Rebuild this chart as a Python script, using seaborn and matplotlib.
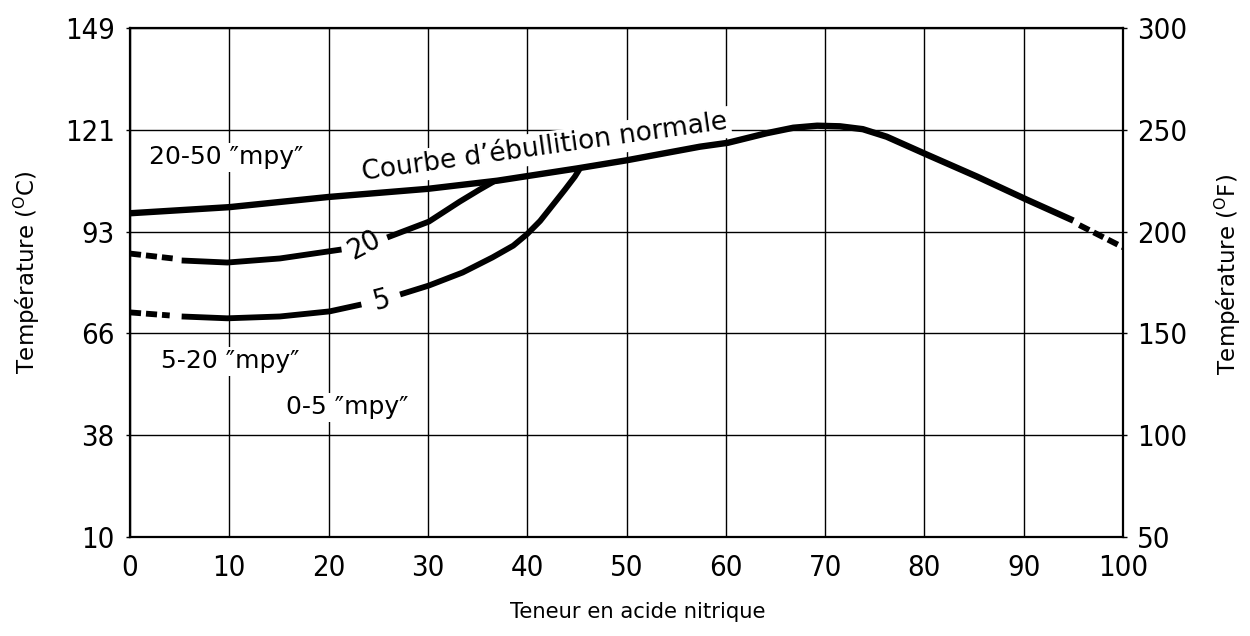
import os
import matplotlib
matplotlib.use("Agg")
import matplotlib.pyplot as plt
import matplotlib.font_manager as fm
import seaborn as sns
import pandas as pd

# ---------------- data (temperature in °F, x = % nitric acid) ----------------
boil_x = [0, 10, 20, 30, 37, 45, 50, 57.4, 60.2, 64.1, 66.8, 69.2, 71.5, 73.8,
          76.2, 80.3, 85.3, 90.3, 95]
boil_f = [209, 212, 217, 221, 225, 231, 235, 241.7, 243.6, 248.3, 251, 252,
          251.7, 250.3, 246.6, 237.7, 227, 215.7, 205.4]
boil_dot_x = [95.6, 100]
boil_dot_f = [203.2, 192.3]

c20_dot_x = [0, 4.3]
c20_dot_f = [189.2, 186.8]
c20_a_x = [5.2, 9.8, 15.1, 21.3]
c20_a_f = [185.8, 184.8, 186.8, 191.2]
c20_b_x = [25.9, 30.1, 33.2, 35.2, 36.6]
c20_b_f = [197.1, 204.9, 214.7, 220.6, 224.5]

c5_dot_x = [0, 4.0]
c5_dot_f = [160.3, 158.8]
c5_a_x = [5.2, 9.8, 15.1, 20.1, 23.3]
c5_a_f = [158.3, 157.4, 158.3, 160.8, 164.2]
c5_b_x = [27.2, 30.1, 33.5, 36.5, 38.6, 40.0, 41.3, 42.6, 43.8, 44.8, 45.3]
c5_b_f = [169.1, 173.5, 179.9, 187.3, 193.1, 198.8, 205.2, 213.2, 220.6, 227.0, 230.9]

x_ticks = [0, 10, 20, 30, 40, 50, 60, 70, 80, 90, 100]
f_ticks = [50, 100, 150, 200, 250, 300]
c_labels = ["10", "38", "66", "93", "121", "149"]
f_labels = ["50", "100", "150", "200", "250", "300"]

x_label = "Teneur en acide nitrique"
yl_label = r"Température ($^{\mathrm{O}}$C)"
yr_label = r"Température ($^{\mathrm{O}}$F)"
mpy = "\u2033mpy\u2033"
region_labels = ["20-50 " + mpy, "5-20 " + mpy, "0-5 " + mpy]
boil_label = "Courbe d\u2019ébullition normale"
curve_labels = ["20", "5"]

# ---------------- fonts ----------------
sns.set_theme(style="white")
plt.rcParams["font.family"] = ["DejaVu Sans"]
plt.rcParams["mathtext.fontset"] = "dejavusans"


def find_font(basenames):
    files = fm.findSystemFonts()
    low = {os.path.basename(f).lower(): f for f in files}
    for b in basenames:
        if b.lower() in low:
            return low[b.lower()]
    return None


narrow_file = find_font(["LiberationSansNarrow-Regular.ttf", "DejaVuSansCondensed.ttf"])


def narrow_fp(size):
    if narrow_file:
        return fm.FontProperties(fname=narrow_file, size=size)
    return fm.FontProperties(family="DejaVu Sans", stretch="condensed", size=size)


fig = plt.figure(figsize=(12.5, 6.36), dpi=100)
ax = fig.add_axes([0.104, 0.1557, 0.7944, 0.8003])

BLACK = "#000000"
LW_B = 4.6
LW_C = 4.2
DOT = (0, (1.9, 0.85))


def seg(xs, ys, lw, ls="-"):
    df = pd.DataFrame({"x": xs, "y": ys})
    sns.lineplot(data=df, x="x", y="y", ax=ax, color=BLACK, linewidth=lw,
                 linestyle=ls, estimator=None, sort=False, legend=False,
                 solid_capstyle="butt", dash_capstyle="butt",
                 solid_joinstyle="round", zorder=3)


seg(boil_x, boil_f, LW_B)
seg(boil_dot_x, boil_dot_f, LW_C, DOT)
seg(c20_dot_x, c20_dot_f, LW_C, DOT)
seg(c20_a_x, c20_a_f, LW_C)
seg(c20_b_x, c20_b_f, LW_C)
seg(c5_dot_x, c5_dot_f, LW_C, DOT)
seg(c5_a_x, c5_a_f, LW_C)
seg(c5_b_x, c5_b_f, LW_C)

ax.set_xlim(0, 100)
ax.set_ylim(50, 300)
ax.set_xticks(x_ticks)
ax.set_yticks(f_ticks)
ax.set_xticklabels([str(v) for v in x_ticks])
ax.set_yticklabels(c_labels)
for lab in ax.get_xticklabels() + ax.get_yticklabels():
    lab.set_fontproperties(narrow_fp(21))
ax.tick_params(axis="x", length=0, pad=12, colors=BLACK)
ax.tick_params(axis="y", length=3, pad=8, colors=BLACK, direction="out", width=1)
ax.grid(True, color=BLACK, linewidth=1.0)
ax.set_axisbelow(True)
for s in ax.spines.values():
    s.set_color(BLACK)
    s.set_linewidth(1.6)
ax.set_xlabel(x_label, color=BLACK, fontsize=15.2)
ax.xaxis.set_label_coords(0.511, -0.147)
ax.xaxis.label.set_va("center")
ax.set_ylabel(yl_label, color=BLACK, fontsize=16.5)
ax.yaxis.label.set_va("center")
ax.yaxis.set_label_coords(-0.104, 0.52)

ax2 = ax.twinx()
ax2.set_ylim(50, 300)
ax2.set_yticks(f_ticks)
ax2.set_yticklabels(f_labels)
for lab in ax2.get_yticklabels():
    lab.set_fontproperties(narrow_fp(21))
ax2.tick_params(axis="y", length=3, pad=7, colors=BLACK, width=1)
for s in ax2.spines.values():
    s.set_visible(False)
ax2.set_ylabel(yr_label, color=BLACK, rotation=90, fontsize=16.5)
ax2.yaxis.label.set_va("center")
ax2.yaxis.set_label_coords(1.106, 0.515)

box = dict(facecolor="white", edgecolor="none", pad=2)
ax.text(9.7, 236.5, region_labels[0], fontsize=18, ha="center",
        va="center", bbox=box, zorder=1.5, color=BLACK)
ax.text(10.1, 136.3, region_labels[1], fontsize=18, ha="center",
        va="center", bbox=box, zorder=1.5, color=BLACK)
ax.text(21.9, 113.7, region_labels[2], fontsize=18, ha="center",
        va="center", bbox=box, zorder=1.5, color=BLACK)
ax.text(41.8, 241.2, boil_label, fontsize=19, ha="center",
        va="center", rotation=8, bbox=box, zorder=1.5, color=BLACK)
ax.text(23.6, 193.6, curve_labels[0], fontproperties=narrow_fp(21),
        ha="center", va="center", rotation=28, zorder=4, color=BLACK)
ax.text(25.4, 166.2, curve_labels[1], fontproperties=narrow_fp(21),
        ha="center", va="center", rotation=15, zorder=4, color=BLACK)

fig.savefig("out.png", dpi=100, facecolor="white")
